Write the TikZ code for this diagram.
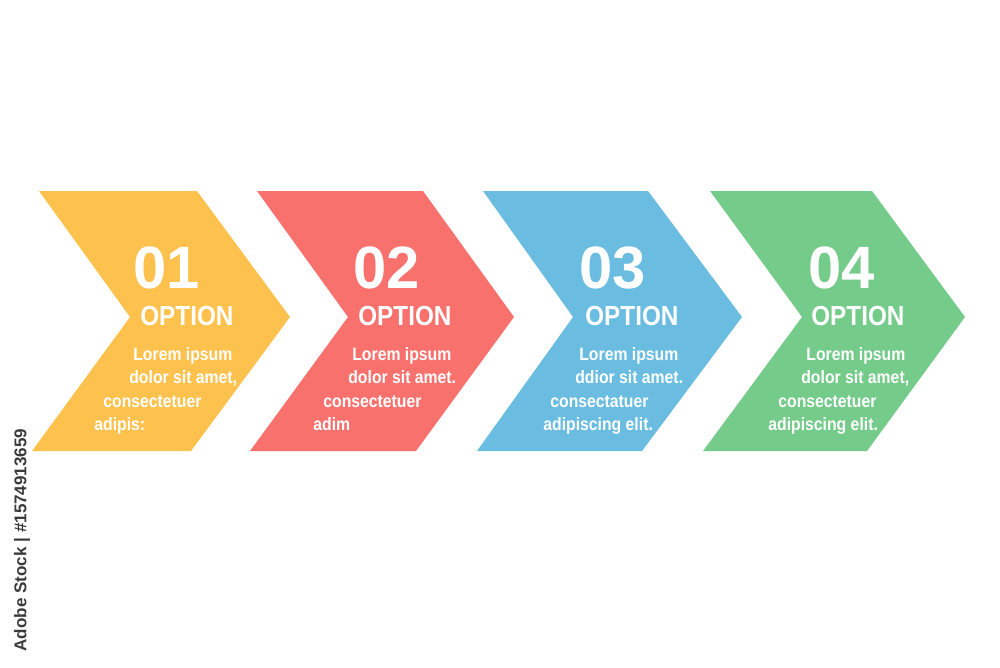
\documentclass[tikz,border=0pt]{standalone}
\usepackage{fontspec}
\setmainfont{Liberation Sans}
\newfontfamily\optfont[FakeStretch=0.88]{Liberation Sans Bold}
\usetikzlibrary{positioning}

\definecolor{optyellow}{HTML}{FDC24E}
\definecolor{optred}{HTML}{F8716D}
\definecolor{optblue}{HTML}{6ABDE1}
\definecolor{optgreen}{HTML}{74CB8A}
\definecolor{stockgray}{HTML}{3A3A3A}

\begin{document}
\begin{tikzpicture} [x = 0.02cm, y = -0.02cm,
    every node/.style = {inner sep = 0pt, anchor = base west, text = white},
    num/.style = {font = \fontsize{34}{34}\selectfont\bfseries},
    head/.style = {font = \optfont\fontsize{15.7}{16}\selectfont},
    body/.style = {font = \optfont\fontsize{10.2}{12}\selectfont}]
\useasboundingbox (0,0) rectangle (1000,667);

% chevrons
\fill[optyellow] (39,191) -- (197,191) -- (290,317) -- (191,451) -- (32,451) -- (130,317) -- cycle;
\fill[optred] (257,191) -- (423,191) -- (514,317) -- (416,451) -- (250,451) -- (348,317) -- cycle;
\fill[optblue] (483,191) -- (648,191) -- (742,317) -- (642,451) -- (477,451) -- (573,317) -- cycle;
\fill[optgreen] (710,191) -- (872,191) -- (965,317) -- (867,451) -- (703,451) -- (802,317) -- cycle;

% option 1
\node[num] (n1) at (133,288) {01};
\node[head] (h1) at (140,325) {OPTION};
\node[body] (b1a) at (133,360) {Lorem ipsum};
\node[body] (b1b) at (129,383) {dolor sit amet,};
\node[body] (b1c) at (103,407) {consectetuer};
\node[body] (b1d) at (94,430) {adipis:};

% option 2
\node[num] (n2) at (353,288) {02};
\node[head] (h2) at (358,325) {OPTION};
\node[body] (b2a) at (352,360) {Lorem ipsum};
\node[body] (b2b) at (348,383) {dolor sit amet.};
\node[body] (b2c) at (323,407) {consectetuer};
\node[body] (b2d) at (313,430) {adim};

% option 3
\node[num] (n3) at (579,288) {03};
\node[head] (h3) at (585,325) {OPTION};
\node[body] (b3a) at (579,360) {Lorem ipsum};
\node[body] (b3b) at (575,383) {ddior sit amet.};
\node[body] (b3c) at (550,407) {consectatuer};
\node[body] (b3d) at (543,430) {adipiscing elit.};

% option 4
\node[num] (n4) at (808,288) {04};
\node[head] (h4) at (811,325) {OPTION};
\node[body] (b4a) at (806,360) {Lorem ipsum};
\node[body] (b4b) at (801,383) {dolor sit amet,};
\node[body] (b4c) at (778,407) {consectetuer};
\node[body] (b4d) at (768,430) {adipiscing elit.};

\node[rotate = 90, anchor = center, text = stockgray,
    font = \fontsize{9.7}{10}\selectfont\bfseries] (stock) at (22,540) {Adobe Stock | \#1574913659};
\end{tikzpicture}
\end{document}
